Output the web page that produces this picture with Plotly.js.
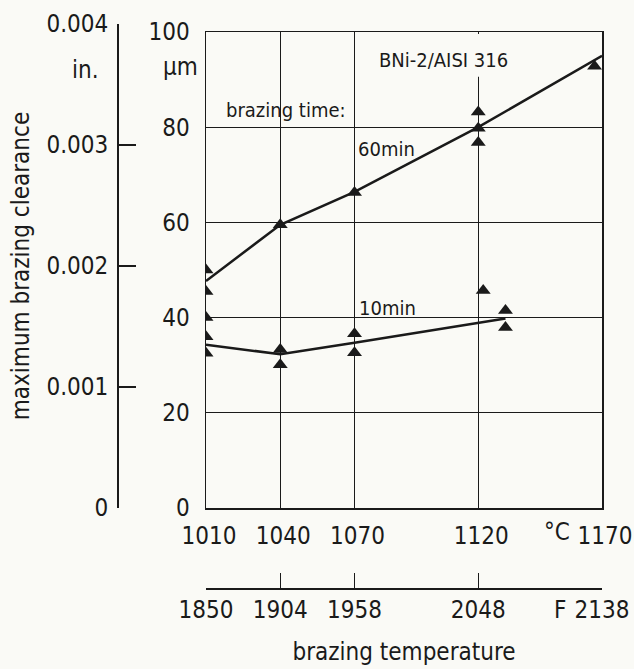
<!DOCTYPE html>
<html>
<head>
<meta charset="utf-8">
<script src="https://cdn.plot.ly/plotly-3.0.1.min.js"></script>
<style>html,body{margin:0;padding:0;background:#fafaf6;}</style>
</head>
<body>
<div id="chart" style="width:634px;height:669px;"></div>
<script>
// ---- data ----
const tempC_ticks = [1010, 1040, 1070, 1120, 1170];
const tempF_ticks = [1850, 1904, 1958, 2048, 2138];
const clearance_um_ticks = [0, 20, 40, 60, 80, 100];
const clearance_in_ticks = [0, 0.001, 0.002, 0.003, 0.004];
const clearance_in_labels = ["0", "0.001", "0.002", "0.003", "0.004"];

const line60_x = [1010, 1040, 1070, 1120, 1170];
const line60_y = [47.7, 59.5, 66.4, 80.0, 95.0];
const line10_x = [1010, 1040, 1070, 1131];
const line10_y = [34.3, 32.3, 34.7, 39.8];

const pts60_x = [1010, 1010, 1040, 1070, 1120, 1120, 1120, 1167];
const pts60_y = [50.0, 45.5, 59.5, 66.3, 83.2, 79.8, 76.8, 92.8];
const pts10_x = [1010, 1010, 1010, 1040, 1040, 1070, 1070, 1122, 1131, 1131];
const pts10_y = [40.0, 36.0, 32.5, 33.3, 30.1, 36.6, 32.6, 45.7, 41.5, 37.9];

// ---- layout helpers (pixel -> paper) ----
const M = {l: 100, r: 20, t: 24, b: 69};
const W = 634 - M.l - M.r, H = 669 - M.t - M.b;
const px = x => (x - M.l) / W;
const py = y => (M.t + H - y) / H;

const INK = '#1a1a1a';
const BG = '#fafaf6';
const FONT = '"DejaVu Sans Condensed", "Liberation Sans Narrow", sans-serif';

const traces = [
  {x: line60_x, y: line60_y, mode: 'lines', line: {color: INK, width: 2.5}, hoverinfo: 'skip', name: '60min'},
  {x: line10_x, y: line10_y, mode: 'lines', line: {color: INK, width: 2.5}, hoverinfo: 'skip', name: '10min'},
  {x: pts60_x, y: pts60_y, mode: 'markers', marker: {symbol: 'triangle-up', size: 13, color: INK}, name: '60min pts'},
  {x: pts10_x, y: pts10_y, mode: 'markers', marker: {symbol: 'triangle-up', size: 13, color: INK}, name: '10min pts'},
  // carriers for the secondary scales
  {x: [null], y: [null], xaxis: 'x2', yaxis: 'y', mode: 'markers', hoverinfo: 'skip', showlegend: false},
  {x: [null], y: [null], xaxis: 'x3', yaxis: 'y2', mode: 'markers', hoverinfo: 'skip', showlegend: false}
];

const tickFont = {family: FONT, size: 24, color: INK};
const annFont = {family: FONT, size: 20, color: INK};

function ann(text, x, y, font) {
  return {text: text, xref: 'paper', yref: 'paper', x: px(x), y: py(y),
          xanchor: 'center', yanchor: 'middle', showarrow: false, font: font};
}

const layout = {
  width: 634, height: 669,
  margin: M,
  paper_bgcolor: BG, plot_bgcolor: BG,
  showlegend: false,
  font: {family: FONT, color: INK},
  xaxis: {
    domain: [px(206), px(602)], range: [1010, 1170],
    tickvals: tempC_ticks, ticktext: tempC_ticks.map(String),
    ticks: '', ticklabelstandoff: 6, ticklabelshift: 3,
    showline: true, mirror: true, linecolor: INK, linewidth: 1.5,
    showgrid: true, gridcolor: INK, gridwidth: 1.3, zeroline: false,
    tickfont: tickFont, anchor: 'y'
  },
  yaxis: {
    domain: [py(508), py(32)], range: [0, 100],
    tickvals: clearance_um_ticks, ticktext: clearance_um_ticks.map(String),
    ticks: '', ticklabelstandoff: 10, showline: true, mirror: true, linecolor: INK, linewidth: 1.5,
    showgrid: true, gridcolor: INK, gridwidth: 1.3, zeroline: false,
    tickfont: tickFont, anchor: 'x'
  },
  xaxis2: {
    overlaying: 'x', anchor: 'free', position: py(588), side: 'bottom',
    range: [1850, 2138], tickvals: tempF_ticks, ticktext: tempF_ticks.map(String),
    ticks: 'inside', ticklen: 15, tickwidth: 1.5, tickcolor: INK,
    showline: true, linecolor: INK, linewidth: 1.5, showgrid: false, zeroline: false,
    tickfont: tickFont,
    title: {text: 'brazing temperature', font: {family: FONT, size: 24, color: INK}, standoff: 20}
  },
  xaxis3: {domain: [0, 0.01], visible: false, anchor: 'y2'},
  yaxis2: {
    domain: [py(508), py(24)], range: [0, 0.004], anchor: 'free', position: px(117), side: 'left',
    tickvals: clearance_in_ticks, ticktext: clearance_in_labels,
    ticks: 'inside', ticklen: 17, tickwidth: 1.5, tickcolor: INK, ticklabelstandoff: 4,
    showline: true, linecolor: INK, linewidth: 1.5, showgrid: false, zeroline: false,
    tickfont: tickFont,
    title: {text: 'maximum brazing clearance', font: {family: FONT, size: 24, color: INK}, standoff: 8}
  },
  shapes: [
    {type: 'rect', xref: 'x', yref: 'y', x0: 1116, x1: 1124, y0: 90.6, y1: 99.6,
     fillcolor: BG, line: {width: 0}, layer: 'above'}
  ],
  annotations: [
    ann('in.', 85, 70, tickFont),
    ann('µm', 180, 67, tickFont),
    ann('BNi-2/AISI 316', 443, 60, annFont),
    ann('brazing time:', 286, 110, annFont),
    ann('60min', 386, 149, annFont),
    ann('10min', 387, 308, annFont),
    ann('°C', 557, 532, tickFont),
    ann('F', 560, 610, tickFont)
  ]
};

Plotly.newPlot('chart', traces, layout, {displayModeBar: false, staticPlot: true});
</script>
</body>
</html>
